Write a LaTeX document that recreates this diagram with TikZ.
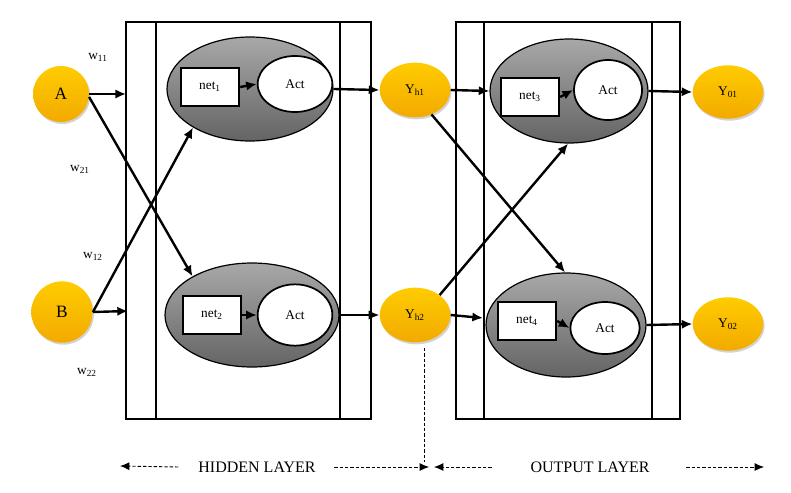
\documentclass[tikz,border=0pt]{standalone}
\usepackage{fontspec}
\setmainfont{Liberation Serif}
\usetikzlibrary{shapes.geometric,arrows.meta,shadows,positioning}
\definecolor{goldtop}{RGB}{255,204,0}
\definecolor{goldbot}{RGB}{242,170,0}
\definecolor{greytop}{RGB}{168,168,168}
\definecolor{greybot}{RGB}{100,100,100}

\begin{document}
\begin{tikzpicture}[x=0.75pt,y=-0.75pt,
	font=\fontsize{10}{12}\selectfont,
	unit/.style={ellipse, inner sep=0pt, top color=goldtop, bottom color=goldbot,
		drop shadow={shadow xshift=1pt, shadow yshift=-1.5pt, opacity=0.35}},
	neuron/.style={ellipse, draw, line width=0.9pt, inner sep=0pt, minimum height=78pt,
		top color=greytop, bottom color=greybot},
	netbox/.style={rectangle, draw, line width=1.3pt, fill=white, inner sep=0pt,
		minimum width=44pt, minimum height=28pt},
	act/.style={ellipse, draw, line width=1.3pt, fill=white, inner sep=0pt},
	wire/.style={line width=1.8pt, -{Latex[length=8pt,width=7pt]}},
	guide/.style={line width=0.7pt, dash pattern=on 2.5pt off 1.5pt, -{Latex[length=7pt,width=6pt]}},
	frame/.style={line width=1.3pt}]
		\useasboundingbox (0,0) rectangle (791,492);

		% layer frames
		\draw[frame] (126,22) rectangle (371,419);
		\draw[frame] (156,22) -- (156,419) (340,22) -- (340,419);
		\draw[frame] (456,22) rectangle (680,419);
		\draw[frame] (484,22) -- (484,419) (652,22) -- (652,419);

		% inputs
		\draw (61,94) node [unit, minimum width=42pt, minimum height=42pt, font=\fontsize{13}{14}\selectfont] (A) {A};
		\draw (62,312) node [unit, minimum width=46pt, minimum height=46pt, font=\fontsize{13}{14}\selectfont] (B) {B};

		% hidden layer
		\draw (250,89) node [neuron, minimum width=124.5pt] (h1) {};
		\draw (252,315) node [neuron, minimum width=130.5pt] (h2) {};
		\draw (210,87) node [netbox] (net1) {net\textsubscript{1}};
		\draw (295,84) node [act, minimum width=56pt, minimum height=42pt] (act1) {Act};
		\draw (212,315) node [netbox] (net2) {net\textsubscript{2}};
		\draw (295,315) node [act, minimum width=56pt, minimum height=46pt] (act2) {Act};

		\draw (415,90) node [unit, minimum width=53pt, minimum height=41pt] (yh1) {Y\textsubscript{h1}};
		\draw (415,315) node [unit, minimum width=53pt, minimum height=41pt] (yh2) {Y\textsubscript{h2}};

		% output layer
		\draw (569,91) node [neuron, minimum width=118.5pt] (o1) {};
		\draw (566,325) node [neuron, minimum width=120pt] (o2) {};
		\draw (530,97) node [netbox] (net3) {net\textsubscript{3}};
		\draw (608,90) node [act, minimum width=51pt, minimum height=45pt] (act3) {Act};
		\draw (527,321) node [netbox] (net4) {net\textsubscript{4}};
		\draw (605,328) node [act, minimum width=52pt, minimum height=39pt] (act4) {Act};

		\draw (728,92) node [unit, minimum width=53pt, minimum height=40pt] (y01) {Y\textsubscript{01}};
		\draw (728,324) node [unit, minimum width=53pt, minimum height=40pt] (y02) {Y\textsubscript{02}};

		% weights
		\draw (98,57) node (w11) {w\textsubscript{11}};
		\draw (80,169) node (w21) {w\textsubscript{21}};
		\draw (93,256) node (w12) {w\textsubscript{12}};
		\draw (87,372) node (w22) {w\textsubscript{22}};

		\coordinate (inA) at (126,94);
		\coordinate (inB) at (128,311);
		\coordinate (inY) at (483,318);

		\path[wire]
		(A.east) edge (inA)
		(A.-6) edge (h2.147)
		(B.east) edge (inB)
		(B.east) edge (h1.214)
		(net1.east) edge (act1.west)
		(net2.east) edge (act2.west)
		(h1.east) edge (yh1.west)
		(h2.east) edge (yh2.west)
		(yh1.east) edge (o1.west)
		(yh1.304) edge (o2.91)
		(yh2.39) edge (o1.269)
		(yh2.east) edge (inY)
		(net3.east) edge (act3.west)
		(net4.east) edge (act4.west)
		(o1.east) edge (y01.west)
		(o2.east) edge (y02.west);

		% layer captions
		\draw (257,467) node [font=\fontsize{12}{14}\selectfont] (hid) {HIDDEN LAYER};
		\draw (590,467) node [font=\fontsize{12}{14}\selectfont] (out) {OUTPUT LAYER};
		\coordinate (cutTop) at (424,348);
		\coordinate (cutBot) at (424,462);
		\coordinate (hidL) at (120,466);
		\coordinate (hidR) at (429,467);
		\coordinate (outL) at (434,467);
		\coordinate (outR) at (764,467);

		\draw[line width=0.7pt, dash pattern=on 2.5pt off 1.5pt] (cutTop) -- (cutBot);
		\path[guide]
		([xshift=-11.5pt]hid.west) edge (hidL)
		([xshift=10.5pt]hid.east) edge (hidR)
		([xshift=-25.5pt]out.west) edge (outL)
		([xshift=24pt]out.east) edge (outR);
	\end{tikzpicture}
\end{document}
